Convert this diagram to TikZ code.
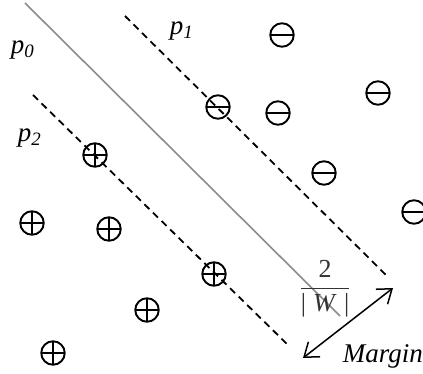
\documentclass[tikz,border=0pt]{standalone}
\usepackage{amsmath}
\usepackage{fontspec}
\setmainfont{Liberation Serif}
\usetikzlibrary{arrows.meta}

\begin{document}
\begin{tikzpicture}[
  x=1pt,y=-1pt,line width=1.9pt,
  sv/.style={circle,draw,minimum size=23.5pt,inner sep=0pt},
  negsv/.style={sv,path picture={\draw (path picture bounding box.west) -- (path picture bounding box.east);}},
  possv/.style={sv,path picture={\draw (path picture bounding box.west) -- (path picture bounding box.east)
      (path picture bounding box.north) -- (path picture bounding box.south);}},
  lbl/.style={inner sep=0pt,anchor=base west,font=\fontsize{27}{32}\selectfont\itshape},
  hyp/.style={line width=1.8pt,dash pattern=on 7pt off 5pt}
]
\useasboundingbox (0,0) rectangle (423,374);
% hyperplanes
\coordinate (h0a) at (25,3);   \coordinate (h0b) at (340,316);
\coordinate (h1a) at (125,16); \coordinate (h1b) at (388,277);
\coordinate (h2a) at (33,95);  \coordinate (h2b) at (288,345);
\draw[black!45,line width=1.6pt] (h0a)--(h0b);
\draw[hyp] (h1a)--(h1b);
\draw[hyp] (h2a)--(h2b);
\node[lbl] (p0) at (10,54) {p\textsubscript{0}};
\node[lbl] (p1) at (169,35) {p\textsubscript{1}};
\node[lbl] (p2) at (17,142) {p\textsubscript{2}};
% class -1
\node[negsv] (n1) at (282,35) {};
\node[negsv] (n2) at (218,107) {};
\node[negsv] (n3) at (278,113) {};
\node[negsv] (n4) at (378,93) {};
\node[negsv] (n5) at (324,173) {};
\node[negsv] (n6) at (414,212) {};
% class +1
\node[possv] (q1) at (95,155) {};
\node[possv] (q2) at (32,223) {};
\node[possv] (q3) at (109,229) {};
\node[possv] (q4) at (214,274) {};
\node[possv] (q5) at (147,310) {};
\node[possv] (q6) at (53,353) {};
% margin
\node[text=black!80,font=\fontsize{26}{30}\selectfont] (w) at (325,289)
  {$\dfrac{\text{2}}{\text{|\;\textit{W}\;|}}$};
\coordinate (m1) at (303,358); \coordinate (m2) at (393,288);
\draw[{Straight Barb[length=13pt,width=19pt]}-{Straight Barb[length=13pt,width=19pt]},line width=1.5pt] (m1)--(m2);
\node[lbl] (mg) at (342,362) {Margin};
\end{tikzpicture}
\end{document}
